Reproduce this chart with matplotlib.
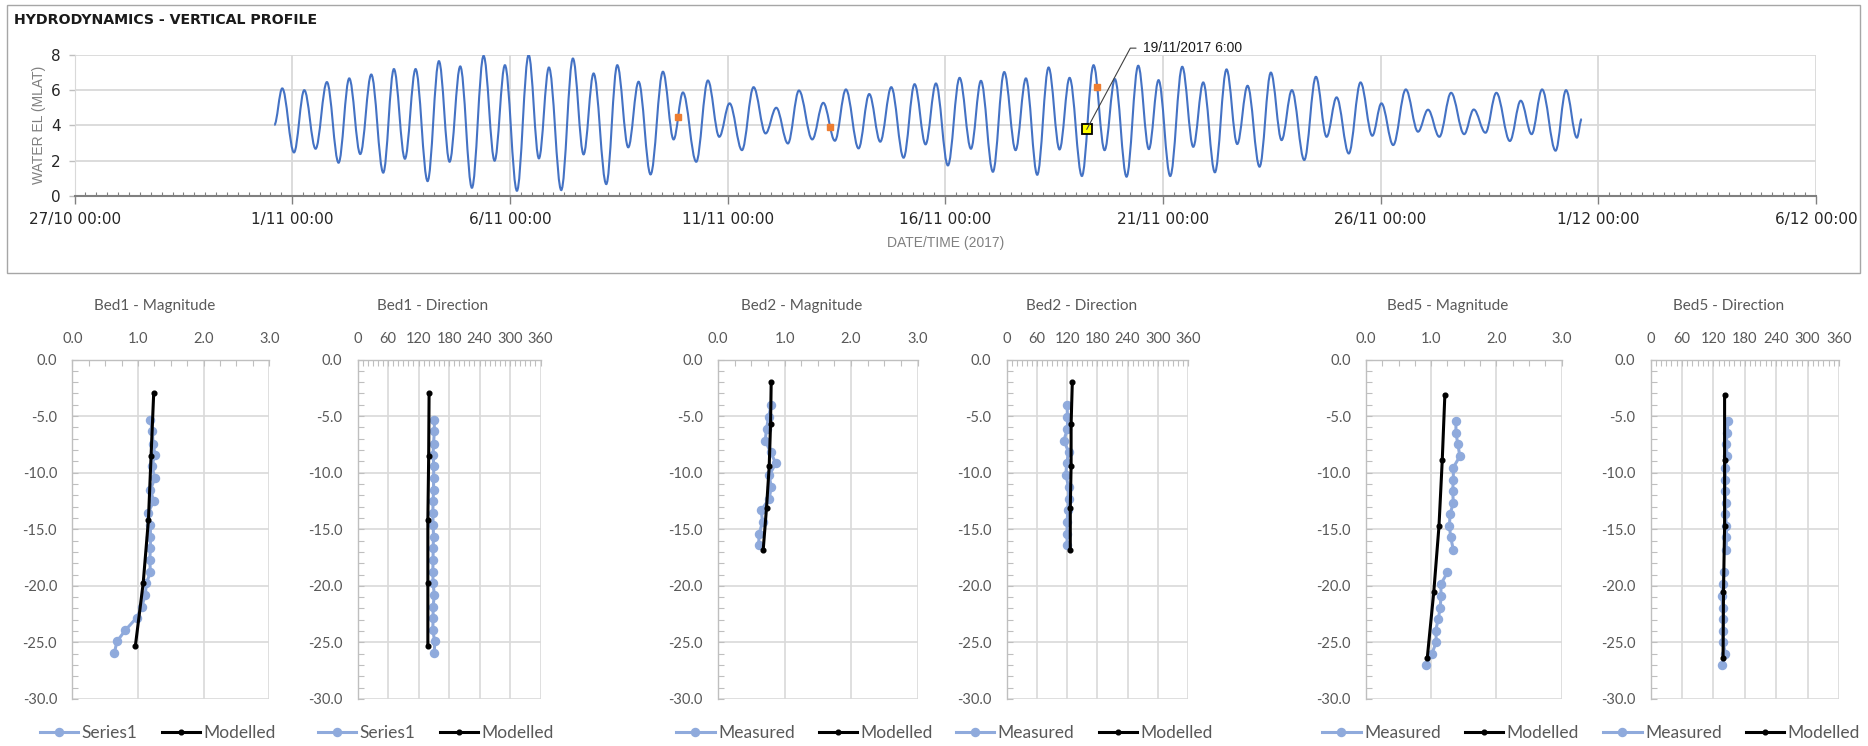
import numpy as np
import matplotlib
matplotlib.use('Agg')
import matplotlib.pyplot as plt
import matplotlib.dates as mdates
from matplotlib.path import Path
from matplotlib.patches import PathPatch, Rectangle
from matplotlib.ticker import FixedLocator, MultipleLocator, FuncFormatter, FormatStrFormatter
from datetime import datetime

# ---------------- DATA ----------------
# Tide: turning points (days after 1/11/2017 00:00) and water level (mLAT)
tide_day = [-0.413, -0.23, 0.04, 0.276, 0.536, 0.796, 1.064, 1.309, 1.562, 1.815, 2.09,
            2.335, 2.588, 2.833, 3.109, 3.369, 3.614, 3.859, 4.127, 4.395, 4.648, 4.885,
            5.161, 5.43, 5.666, 5.896, 6.179, 6.447, 6.692, 6.922, 7.213, 7.466, 7.718,
            7.956, 8.231, 8.515, 8.76, 8.974, 9.28, 9.548, 9.809, 10.046, 10.33, 10.597,
            10.873, 11.118, 11.386, 11.639, 11.945, 12.198, 12.465, 12.718, 13.009, 13.254,
            13.507, 13.76, 14.043, 14.296, 14.548, 14.786, 15.061, 15.33, 15.59, 15.82,
            16.095, 16.355, 16.616, 16.853, 17.113, 17.374, 17.626, 17.856, 18.139, 18.407,
            18.66, 18.897, 19.165, 19.433, 19.678, 19.9, 20.168, 20.444, 20.697, 20.926,
            21.194, 21.462, 21.707, 21.945, 22.22, 22.48, 22.726, 22.963, 23.247, 23.515,
            23.76, 23.99, 24.27, 24.54, 24.81, 25.02, 25.29, 25.58, 25.86, 26.09, 26.35,
            26.62, 26.92, 27.14, 27.41, 27.66, 27.97, 28.22, 28.47, 28.71, 29.02, 29.26,
            29.51, 29.62]
tide_level = [4.02, 6.10, 2.46, 6.00, 2.67, 6.46, 1.875, 6.67, 2.37, 6.89, 1.31,
              7.20, 2.10, 7.20, 0.83, 7.65, 1.93, 7.35, 0.45, 7.95, 1.99, 7.42,
              0.28, 8.00, 2.12, 7.29, 0.32, 7.80, 2.35, 6.95, 0.66, 7.42, 2.75,
              6.48, 1.21, 7.05, 3.20, 5.87, 1.93, 6.55, 3.35, 5.25, 2.59, 6.17,
              3.54, 5.00, 2.97, 5.98, 3.20, 5.28, 3.125, 6.04, 2.69, 5.78,
              3.07, 6.17, 2.16, 6.34, 2.92, 6.38, 1.72, 6.70, 2.67, 6.53,
              1.36, 7.03, 2.59, 6.67, 1.19, 7.29, 2.63, 6.70, 1.12, 7.42,
              2.59, 6.63, 1.08, 7.39, 2.65, 6.57, 1.12, 7.33, 2.78, 6.44,
              1.33, 7.18, 2.94, 6.25, 1.65, 7.00, 3.16, 6.00, 2.03, 6.76,
              3.35, 5.59, 2.40, 6.44, 3.41, 5.25, 2.88, 6.04, 3.64, 4.89, 3.35,
              5.85, 3.50, 4.90, 3.58, 5.85, 3.11, 5.40, 3.50, 6.04, 2.56, 6.00,
              3.30, 4.36]
obs_day = [8.85, 12.358, 18.476]
obs_level = [4.45, 3.92, 6.19]
sel_day = [18.25]
sel_level = [3.77]
sel_label = '19/11/2017 6:00'

# Bed1
bed1_meas_depth = [-5.35, -6.35, -7.44, -8.41, -9.44, -10.47, -11.5, -12.53, -13.59, -14.59, -15.65,
                   -16.68, -17.74, -18.74, -19.79, -20.79, -21.85, -22.82, -23.91, -24.91, -25.97]
bed1_meas_mag = [1.19, 1.22, 1.23, 1.26, 1.21, 1.26, 1.19, 1.24, 1.15, 1.19, 1.19,
                 1.19, 1.18, 1.19, 1.13, 1.11, 1.06, 0.98, 0.81, 0.68, 0.64]
bed1_meas_dir = [151, 151, 149.5, 148.6, 150, 149.5, 149.5, 148.6, 148, 148.6, 149.5,
                 148.6, 148.6, 148, 148.6, 151, 148.6, 148.6, 148, 151.8, 151]
bed1_mod_depth = [-3.0, -8.53, -14.18, -19.76, -25.35]
bed1_mod_mag = [1.24, 1.20, 1.16, 1.08, 0.96]
bed1_mod_dir = [140.7, 139.9, 138.3, 138.3, 138.3]

# Bed2
bed2_meas_depth = [-4.02, -5.11, -6.11, -7.17, -8.18, -9.18, -10.22, -11.28, -12.31, -13.32,
                   -14.35, -15.38, -16.39]
bed2_meas_mag = [0.80, 0.76, 0.73, 0.71, 0.79, 0.87, 0.77, 0.80, 0.77, 0.65, 0.67, 0.62, 0.61]
bed2_meas_dir = [120, 120.8, 120.8, 113.6, 123.2, 119.2, 117.6, 123.2, 123.2, 121.6, 120, 120, 120]
bed2_mod_depth = [-2.01, -5.73, -9.42, -13.08, -16.8]
bed2_mod_mag = [0.80, 0.79, 0.77, 0.73, 0.68]
bed2_mod_dir = [130.4, 128, 128, 126.4, 126.4]

# Bed5
nan = float('nan')
bed5_meas_depth = [-5.41, -6.49, -7.49, -8.55, -9.55, -10.61, -11.61, -12.67, -13.66, -14.72, -15.72,
                   -16.81, nan, -18.81, -19.84, -20.86, -21.92, -22.89, -23.95, -24.95, -26.01, -27.01]
bed5_meas_mag = [1.38, 1.38, 1.41, 1.44, 1.34, 1.34, 1.33, 1.34, 1.29, 1.28, 1.30,
                 1.34, nan, 1.25, 1.15, 1.15, 1.14, 1.11, 1.07, 1.08, 1.01, 0.92]
bed5_meas_dir = [148, 146.6, 144.4, 146.6, 142.2, 143, 141.5, 144.4, 143, 145.1, 145.1,
                 144.4, nan, 140, 138.6, 135.8, 138, 139.4, 138, 138.6, 143, 137.2]
bed5_mod_depth = [-3.14, -8.9, -14.72, -20.54, -26.39]
bed5_mod_mag = [1.21, 1.17, 1.12, 1.04, 0.94]
bed5_mod_dir = [141.5, 141.5, 141.5, 139.4, 138.6]

# ---------------- FIGURE ----------------
W, H = 1868, 746
fig = plt.figure(figsize=(W / 100, H / 100), dpi=100)
fig.patch.set_facecolor('white')


def fx(px):
    return px / W


def fy(py):
    return 1 - py / H


def rect(l, t, r, b):
    return [fx(l), fy(b), fx(r) - fx(l), fy(t) - fy(b)]


# frame around the hydrograph
fig.patches.append(Rectangle((fx(7), fy(273)), fx(1860) - fx(7), fy(5) - fy(273),
                             transform=fig.transFigure, fill=False,
                             edgecolor='#A6A6A6', lw=1.0))

fig.text(fx(14), fy(20), 'HYDRODYNAMICS - VERTICAL PROFILE', fontsize=10.2,
         fontweight='bold', family='DejaVu Sans', va='center', ha='left', color='#1a1a1a')

# ---------------- HYDROGRAPH ----------------
ax = fig.add_axes(rect(74.6, 55, 1815.9, 195.7))
base = mdates.date2num(datetime(2017, 11, 1))
x0 = mdates.date2num(datetime(2017, 10, 27))
x1 = mdates.date2num(datetime(2017, 12, 6))

xs = base + np.array(tide_day)
ys = np.array(tide_level)
k = 0.3634
verts = [(xs[0], ys[0])]
codes = [Path.MOVETO]
for i in range(len(xs) - 1):
    dt = xs[i + 1] - xs[i]
    verts += [(xs[i] + k * dt, ys[i]), (xs[i + 1] - k * dt, ys[i + 1]), (xs[i + 1], ys[i + 1])]
    codes += [Path.CURVE4] * 3
ax.add_patch(PathPatch(Path(verts, codes), fill=False, edgecolor='#4472C4', lw=1.5, zorder=2))

ax.plot(base + np.array(obs_day), obs_level, ls='none', marker='s', ms=4.2,
        color='#ED7D31', zorder=3)
ax.plot(base + np.array(sel_day), sel_level, ls='none', marker='s', ms=7.5,
        mfc='#FFFF00', mec='black', mew=1.3, zorder=3)
ax.annotate(sel_label, xy=(base + sel_day[0], sel_level[0]), xytext=(40.5, 58.5),
            textcoords='offset points', fontsize=10, family='Liberation Sans',
            va='center', ha='left', color='#1a1a1a', annotation_clip=False,
            arrowprops=dict(arrowstyle='-', color='#404040', lw=0.8, shrinkA=3, shrinkB=0,
                            relpos=(0, 0.5),
                            connectionstyle='angle,angleA=0,angleB=61.8,rad=0'),
            zorder=4)

ax.set_xlim(x0, x1)
ax.set_ylim(0, 8)
ax.xaxis.set_major_locator(FixedLocator(np.arange(x0, x1 + 0.1, 5)))
ax.xaxis.set_minor_locator(FixedLocator(np.arange(x0, x1 + 0.01, 0.25)))


def dfmt(v, pos):
    d = mdates.num2date(v)
    return f'{d.day}/{d.month} {d:%H:%M}'


ax.xaxis.set_major_formatter(FuncFormatter(dfmt))
ax.yaxis.set_major_locator(MultipleLocator(2))
ax.grid(True, which='major', color='#D9D9D9', lw=1.3)
ax.set_axisbelow(True)
for s in ['top', 'right']:
    ax.spines[s].set_visible(False)
ax.spines['left'].set_color('#D9D9D9')
ax.spines['bottom'].set_color('#808080')
ax.spines['bottom'].set_linewidth(1.5)
ax.tick_params(axis='x', which='major', direction='out', length=6, width=1, color='#808080',
               pad=6, labelsize=11, labelcolor='#262626')
ax.tick_params(axis='x', which='minor', direction='in', length=3, width=0.8, color='#808080')
ax.tick_params(axis='y', which='major', direction='out', length=4, width=1, color='#BFBFBF',
               pad=6, labelsize=11, labelcolor='#262626')
ax.set_ylabel('WATER EL (MLAT)', fontsize=10, color='#808080', family='Liberation Sans')
ax.yaxis.set_label_coords(-0.0165, 0.5)
ax.set_xlabel('DATE/TIME (2017)', fontsize=10, color='#808080', family='Liberation Sans')
ax.xaxis.set_label_coords(0.5, -0.287)

# ---------------- PROFILE PANELS ----------------
FONT = 'Lato'
GREY = '#595959'


def panel(l, r, t, b, title, kind, md, mv, od, ov, meas_label):
    a = fig.add_axes(rect(l, t, r, b))
    a.plot(mv, md, color='#8FAADC', lw=2.2, marker='o', ms=5.8, label=meas_label, zorder=3)
    a.plot(ov, od, color='black', lw=2.2, marker='o', ms=3.4, label='Modelled', zorder=4)
    a.set_ylim(-30, 0)
    if kind == 'mag':
        a.set_xlim(0, 3)
        a.xaxis.set_major_locator(MultipleLocator(1))
        a.xaxis.set_minor_locator(MultipleLocator(0.25))
        a.xaxis.set_major_formatter(FormatStrFormatter('%.1f'))
    else:
        a.set_xlim(0, 360)
        a.xaxis.set_major_locator(MultipleLocator(60))
        a.xaxis.set_minor_locator(MultipleLocator(10))
        a.xaxis.set_major_formatter(FormatStrFormatter('%d'))
    a.yaxis.set_major_locator(MultipleLocator(5))
    a.yaxis.set_minor_locator(MultipleLocator(1))
    a.yaxis.set_major_formatter(FormatStrFormatter('%.1f'))
    a.xaxis.tick_top()
    a.grid(True, which='major', color='#D9D9D9', lw=1.2)
    a.set_axisbelow(True)
    for s in ['right', 'bottom']:
        a.spines[s].set_visible(False)
    for s in ['top', 'left']:
        a.spines[s].set_color('#BFBFBF')
        a.spines[s].set_linewidth(1.0)
    a.tick_params(which='both', direction='in', color='#BFBFBF', width=0.8)
    a.tick_params(which='major', length=4)
    a.tick_params(which='minor', length=4)
    a.tick_params(axis='x', which='major', pad=10, labelsize=10.5, labelcolor=GREY,
                  top=True, bottom=False, labeltop=True, labelbottom=False)
    a.tick_params(axis='x', which='minor', top=True, bottom=False)
    a.tick_params(axis='y', which='major', pad=11, labelsize=10.5, labelcolor=GREY)
    for lab in a.get_xticklabels() + a.get_yticklabels():
        lab.set_family(FONT)
    cx = (l + r) / 2
    fig.text(fx(cx - 16), fy(306), title, ha='center', va='center', fontsize=11,
             color=GREY, family=FONT)
    leg = a.legend(loc='center', bbox_to_anchor=(fx(cx - 13), fy(733)),
                   bbox_transform=fig.transFigure, ncol=2, frameon=False,
                   handlelength=2.2, handletextpad=0.2, columnspacing=1.4,
                   prop={'family': FONT, 'size': 12.5})
    for txt in leg.get_texts():
        txt.set_color(GREY)
    return a


panel(72.3, 269.2, 359.5, 699, 'Bed1 - Magnitude', 'mag', bed1_meas_depth, bed1_meas_mag,
      bed1_mod_depth, bed1_mod_mag, 'Series1')
panel(357.6, 540.5, 359.5, 699, 'Bed1 - Direction', 'dir', bed1_meas_depth, bed1_meas_dir,
      bed1_mod_depth, bed1_mod_dir, 'Series1')
panel(718, 917.5, 359.5, 699, 'Bed2 - Magnitude', 'mag', bed2_meas_depth, bed2_meas_mag,
      bed2_mod_depth, bed2_mod_mag, 'Measured')
panel(1006.6, 1188, 359.5, 699, 'Bed2 - Direction', 'dir', bed2_meas_depth, bed2_meas_dir,
      bed2_mod_depth, bed2_mod_dir, 'Measured')
panel(1366, 1561.5, 359.5, 699, 'Bed5 - Magnitude', 'mag', bed5_meas_depth, bed5_meas_mag,
      bed5_mod_depth, bed5_mod_mag, 'Measured')
panel(1650.5, 1839, 359.5, 699, 'Bed5 - Direction', 'dir', bed5_meas_depth, bed5_meas_dir,
      bed5_mod_depth, bed5_mod_dir, 'Measured')

fig.savefig('out.png', dpi=100, facecolor='white')
